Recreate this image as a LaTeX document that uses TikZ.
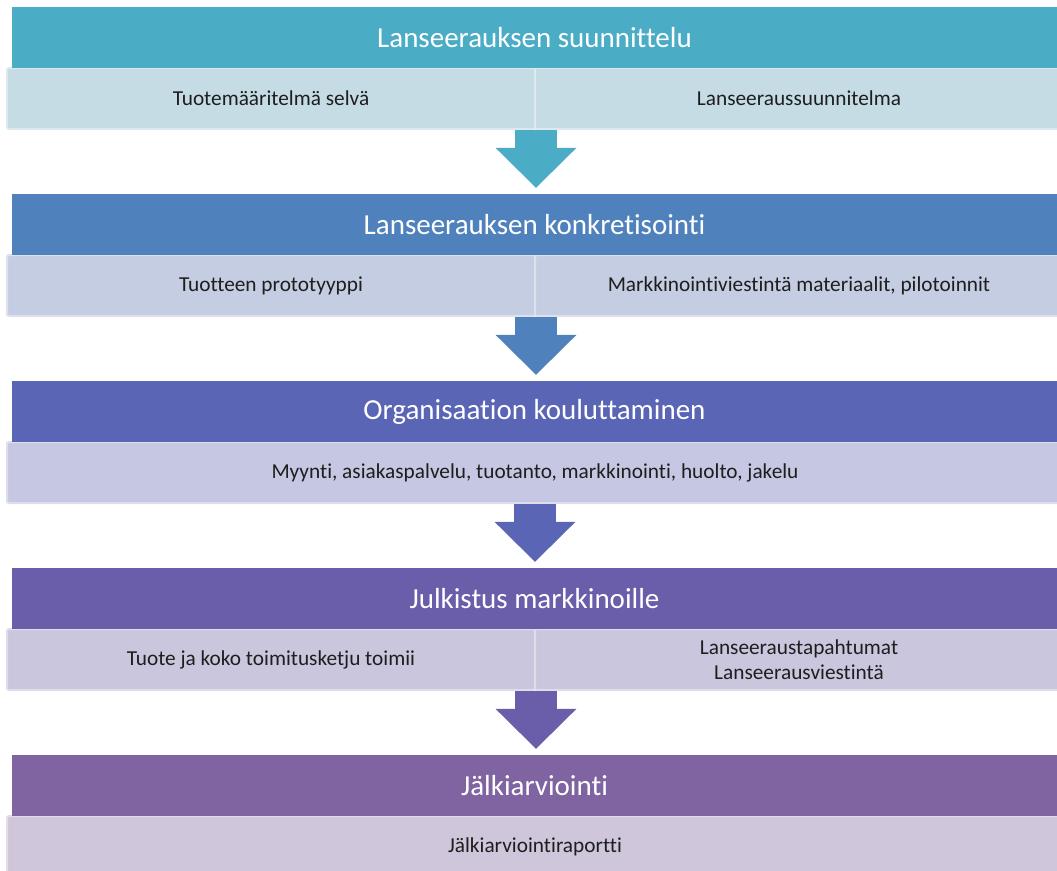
\documentclass[tikz,border=0pt]{standalone}
\usepackage{fontspec}
\setmainfont[Ligatures=NoCommon]{Carlito}
\usepackage{xcolor}
\usetikzlibrary{arrows.meta}

\definecolor{head1}{HTML}{4BACC6}
\definecolor{head2}{HTML}{4F81BD}
\definecolor{head3}{HTML}{5A65B5}
\definecolor{head4}{HTML}{6A5EAB}
\definecolor{head5}{HTML}{8064A2}
\definecolor{sub1}{HTML}{C5DCE5}
\definecolor{sub2}{HTML}{C4CDE1}
\definecolor{sub3}{HTML}{C6C7E2}
\definecolor{sub4}{HTML}{CAC6DD}
\definecolor{sub5}{HTML}{CFC6DB}
\definecolor{subtext}{HTML}{1E1E1E}

\begin{document}
\begin{tikzpicture}[x=1pt,y=-1pt,
		header/.style={rectangle,inner sep=0pt,minimum width=1045pt,minimum height=61pt,text=white,font=\fontsize{29}{31}\selectfont},
		subbox/.style={rectangle,rounded corners=2pt,inner sep=0pt,minimum height=61pt,line width=2pt,text=subtext,align=center,font=\fontsize{21.3}{25}\selectfont},
		flow/.style={line width=42pt,shorten >=6pt,-{Triangle[width=81pt,length=40pt,line width=0pt]}}]
		\useasboundingbox (0,0) rectangle (1057,870);
		\clip (0,0) rectangle (1057,870);
	
		% draw sub boxes of each step
		\node (sub1l) at (271,98.5) [subbox,fill=sub1,draw=sub1!60!white,minimum width=528pt] {Tuotemääritelmä selvä};
		\node (sub1r) at (799,98.5) [subbox,fill=sub1,draw=sub1!60!white,minimum width=528pt] {Lanseeraussuunnitelma};
		\node (sub2l) at (271,285.5) [subbox,fill=sub2,draw=sub2!60!white,minimum width=528pt] {Tuotteen prototyyppi};
		\node (sub2r) at (799,285.5) [subbox,fill=sub2,draw=sub2!60!white,minimum width=528pt] {Markkinointiviestintä materiaalit, pilotoinnit};
		\node (sub3) at (535,472.5) [subbox,fill=sub3,draw=sub3!60!white,minimum width=1056pt] {Myynti, asiakaspalvelu, tuotanto, markkinointi, huolto, jakelu};
		\node (sub4l) at (271,659.5) [subbox,fill=sub4,draw=sub4!60!white,minimum width=528pt] {Tuote ja koko toimitusketju toimii};
		\node (sub4r) at (799,659.5) [subbox,fill=sub4,draw=sub4!60!white,minimum width=528pt] {Lanseeraustapahtumat\\Lanseerausviestintä};
		\node (sub5) at (535,846.5) [subbox,fill=sub5,draw=sub5!60!white,minimum width=1056pt] {Jälkiarviointiraportti};
	
		% draw header of each step
		\foreach \i/\txt in {1/Lanseerauksen suunnittelu,2/Lanseerauksen konkretisointi,3/Organisaation kouluttaminen,4/Julkistus markkinoille,5/Jälkiarviointi}
		{
			\node (head\i) at (534.5,37.5 + 187*\i - 187) [header,fill=head\i] {\txt};
		}
	
		% draw arrow from each step to the next one
		\foreach \s/\i/\j in {sub1l.south east/1/2,sub2l.south east/2/3,sub3.south/3/4,sub4l.south east/4/5}
		{
			\draw[flow,draw=head\i] (\s) -- (\s |- head\j.north);
		}
	\end{tikzpicture}
\end{document}
